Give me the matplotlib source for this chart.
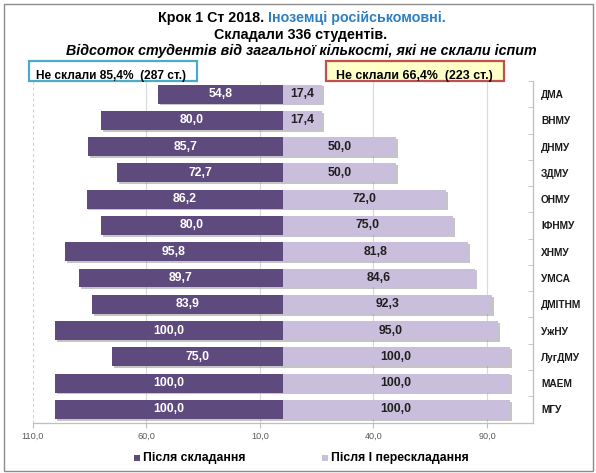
import matplotlib
matplotlib.use('Agg')
import matplotlib.pyplot as plt
from matplotlib.patches import Rectangle
from matplotlib import patheffects as pe
from matplotlib.ticker import FuncFormatter
import numpy as np

plt.rcParams['font.family'] = ['Liberation Sans', 'DejaVu Sans']

# ---------------- data ----------------
universities = ['ДМА', 'ВНМУ', 'ДНМУ', 'ЗДМУ', 'ОНМУ', 'ІФНМУ', 'ХНМУ', 'УМСА',
                'ДМІТНМ', 'УжНУ', 'ЛугДМУ', 'МАЕМ', 'МГУ']
after_exam = [54.8, 80.0, 85.7, 72.7, 86.2, 80.0, 95.8, 89.7, 83.9, 100.0, 75.0, 100.0, 100.0]
after_retake = [17.4, 17.4, 50.0, 50.0, 72.0, 75.0, 81.8, 84.6, 92.3, 95.0, 100.0, 100.0, 100.0]
x_ticks = [-110, -60, -10, 40, 90]
series_names = ['Після складання', 'Після І перескладання']
title_black = 'Крок 1 Ст 2018. '
title_blue = 'Іноземці російськомовні.'
subtitle = 'Складали 336 студентів.'
subtitle2 = 'Відсоток студентів від загальної кількості, які не склали іспит'
box_left_text = 'Не склали 85,4%  (287 ст.)'
box_right_text = 'Не склали 66,4%  (223 ст.)'

DARK = '#5E4A7D'
LIGHT = '#C9BFDC'

W, H = 596, 473
fig = plt.figure(figsize=(W / 100, H / 100), dpi=100)


def fx(px):
    return px / W


def fy(py):
    return 1 - py / H


def fmt(v):
    return f'{abs(v):.1f}'.replace('.', ',')


ax = fig.add_axes([fx(32.6), fy(422.5), (532.5 - 32.6) / W, (422.5 - 81) / H])
y = np.arange(len(universities))
shadow = [pe.SimplePatchShadow(offset=(1.3, -1.3), shadow_rgbFace='#7f7f7f', alpha=0.45), pe.Normal()]
b1 = ax.barh(y, -np.array(after_exam), height=0.72, color=DARK, zorder=3)
b2 = ax.barh(y, after_retake, height=0.72, color=LIGHT, zorder=3)
for b in list(b1) + list(b2):
    b.set_path_effects(shadow)

ax.bar_label(b1, labels=[fmt(v) for v in after_exam], label_type='center',
             color='white', fontweight='bold', fontsize=8.8, zorder=5)
ax.bar_label(b2, labels=[fmt(v) for v in after_retake], label_type='center',
             color='#1f1f1f', fontweight='bold', fontsize=8.8, zorder=5)

ax.set_xlim(-110, 110)
ax.set_ylim(12.5, -0.5)

for s in ['top', 'left']:
    ax.spines[s].set_visible(False)
for s in ['right', 'bottom']:
    ax.spines[s].set_color('#BFBFBF')
    ax.spines[s].set_linewidth(0.9)

ax.yaxis.tick_right()
ax.set_yticks(y)
ax.set_yticklabels(universities)
ax.tick_params(axis='y', which='major', length=0, pad=6.2, labelsize=7.3, labelcolor='#1a1a1a')
for lbl in ax.get_yticklabels():
    lbl.set_fontweight('bold')
ax.set_yticks(np.arange(-0.5, len(universities), 1.0), minor=True)
ax.tick_params(axis='y', which='minor', direction='in', length=3.5, color='#BFBFBF',
               right=True, left=False)

ax.set_xticks(x_ticks)
ax.xaxis.set_major_formatter(FuncFormatter(lambda v, p: fmt(v)))
ax.tick_params(axis='x', length=3.5, color='#BFBFBF', labelcolor='#595959', labelsize=6.6, pad=3)

for xv in x_ticks:
    if xv == x_ticks[0]:
        ax.axvline(xv, color='#D0D0D0', ls=(0, (2.5, 2.5)), lw=0.8, zorder=1)
    else:
        ax.axvline(xv, color='#D9D9D9', lw=0.8, zorder=1)

# ---------------- titles ----------------
TS = 10.25
t1 = fig.text(0, fy(22), title_black, fontweight='bold', fontsize=TS, va='baseline', ha='left')
t2 = fig.text(0, fy(22), title_blue, fontweight='bold', fontsize=TS, va='baseline', ha='left',
              color='#2E80C2')
fig.text(fx(301), fy(38.7), subtitle, fontweight='bold', fontsize=TS, va='baseline', ha='center')
fig.text(fx(301.5), fy(55), subtitle2, fontweight='bold', fontstyle='italic', fontsize=TS,
         va='baseline', ha='center')
fig.canvas.draw()
r = fig.canvas.get_renderer()
w1 = t1.get_window_extent(r).width
w2 = t2.get_window_extent(r).width
left = 301.5 - (w1 + w2) / 2
t1.set_x(fx(left))
t2.set_x(fx(left + w1))

# ---------------- annotation boxes ----------------
fig.patches.append(Rectangle((fx(28.5), fy(80.7)), (196.7 - 28.5) / W, (80.7 - 61) / H,
                             transform=fig.transFigure, fc='white', ec='#4BACC6', lw=1.6))
fig.patches.append(Rectangle((fx(326), fy(81.2)), (504 - 326) / W, (81.2 - 61) / H,
                             transform=fig.transFigure, fc='#FFFFC8', ec='#C0504D', lw=1.6))
fig.text(fx(36), fy(78.6), box_left_text, fontweight='bold', fontsize=8.6, va='baseline', ha='left')
fig.text(fx(336), fy(78.6), box_right_text, fontweight='bold', fontsize=8.9, va='baseline', ha='left')

# ---------------- legend ----------------
fig.patches.append(Rectangle((fx(134), fy(460.5)), 6 / W, 6 / H, transform=fig.transFigure,
                             fc=DARK, ec='none'))
fig.patches.append(Rectangle((fx(322), fy(460.5)), 6 / W, 6 / H, transform=fig.transFigure,
                             fc=LIGHT, ec='none'))
fig.text(fx(142.7), fy(461), series_names[0], fontweight='bold', fontsize=8.8, va='baseline', ha='left')
fig.text(fx(330.7), fy(461), series_names[1], fontweight='bold', fontsize=8.8, va='baseline', ha='left')

# ---------------- outer frame ----------------
fig.patches.append(Rectangle((fx(3.5), fy(471)), (592.5 - 3.5) / W, (471 - 4) / H,
                             transform=fig.transFigure, fc='none', ec='#8C8C8C', lw=1.0))

fig.savefig('out.png', dpi=100)
